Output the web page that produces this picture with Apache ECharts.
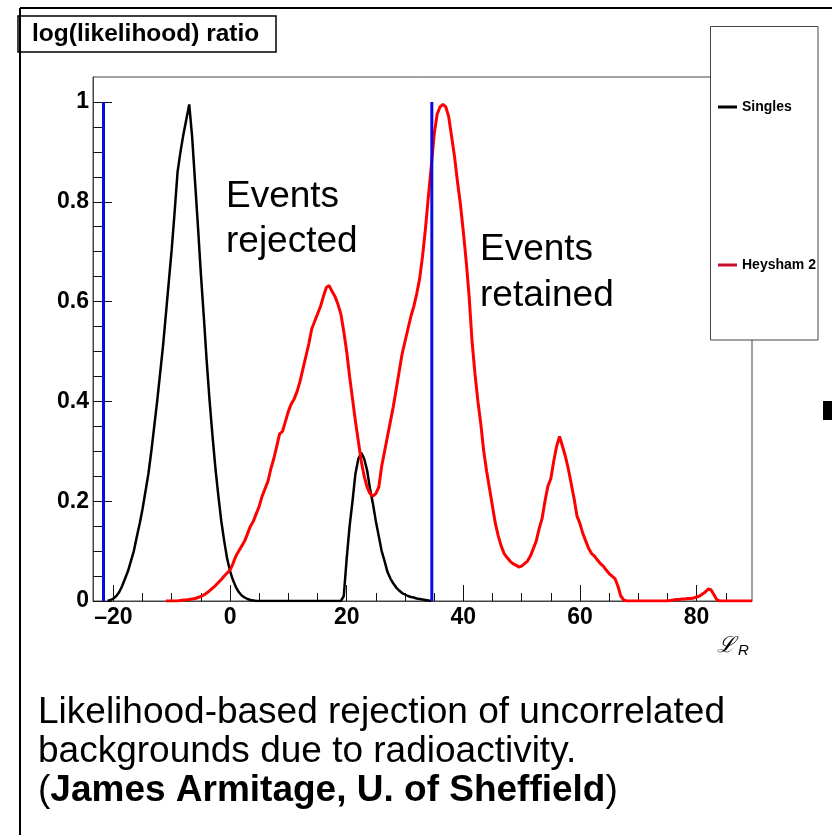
<!DOCTYPE html>
<html><head><meta charset="utf-8">
<script src="https://cdn.jsdelivr.net/npm/echarts@6/dist/echarts.min.js"></script>
<style>html,body{margin:0;padding:0;background:#fff}#c{width:832px;height:835px}</style>
</head><body><div id="c"></div>
<script>
// ---- data (histograms, bin width 0.5) ----
const binWidth = 0.5;
const singlesStart = -21;
const singles = [
  0, 0.002, 0.005, 0.01, 0.018, 0.03, 0.045, 0.06, 0.08, 0.1,
  0.128, 0.155, 0.185, 0.22, 0.255, 0.3, 0.35, 0.4, 0.455, 0.51,
  0.575, 0.64, 0.705, 0.78, 0.86, 0.9, 0.935, 0.965, 0.995, 0.93,
  0.84, 0.75, 0.655, 0.57, 0.48, 0.4, 0.33, 0.265, 0.21, 0.16,
  0.12, 0.085, 0.06, 0.042, 0.028, 0.018, 0.011, 0.007, 0.004, 0.002,
  0.001, 0, 0, 0, 0, 0, 0, 0, 0, 0,
  0, 0, 0, 0, 0, 0, 0, 0, 0, 0,
  0, 0, 0, 0, 0, 0, 0, 0, 0, 0,
  0, 0.01, 0.085, 0.15, 0.2, 0.255, 0.285, 0.297, 0.285, 0.262,
  0.225, 0.195, 0.16, 0.13, 0.1, 0.08, 0.058, 0.045, 0.035, 0.027,
  0.021, 0.016, 0.013, 0.01, 0.008, 0.007, 0.005, 0.004, 0.003, 0.002,
  0.001, 0
];
const heyshamStart = -11;
const heysham = [
  0, 0, 0, 0, 0, 0.001, 0.002, 0.002, 0.003, 0.004,
  0.005, 0.007, 0.009, 0.012, 0.016, 0.021, 0.026, 0.031, 0.037, 0.043,
  0.05, 0.056, 0.062, 0.075, 0.09, 0.1, 0.11, 0.12, 0.135, 0.15,
  0.16, 0.175, 0.19, 0.21, 0.225, 0.24, 0.265, 0.285, 0.31, 0.335,
  0.34, 0.36, 0.38, 0.395, 0.405, 0.42, 0.44, 0.465, 0.49, 0.515,
  0.545, 0.56, 0.575, 0.59, 0.61, 0.628, 0.632, 0.62, 0.61, 0.595,
  0.575, 0.54, 0.5, 0.45, 0.405, 0.36, 0.32, 0.28, 0.25, 0.228,
  0.215, 0.21, 0.215, 0.228, 0.27, 0.3, 0.33, 0.36, 0.39, 0.425,
  0.46, 0.495, 0.52, 0.545, 0.57, 0.59, 0.615, 0.645, 0.69, 0.745,
  0.81, 0.87, 0.935, 0.975, 0.99, 0.995, 0.99, 0.97, 0.93, 0.89,
  0.84, 0.795, 0.74, 0.68, 0.61, 0.52, 0.455, 0.4, 0.355, 0.3,
  0.26, 0.225, 0.19, 0.155, 0.13, 0.11, 0.095, 0.087, 0.08, 0.075,
  0.072, 0.068, 0.07, 0.075, 0.08, 0.09, 0.105, 0.12, 0.145, 0.165,
  0.2, 0.23, 0.245, 0.28, 0.31, 0.33, 0.31, 0.29, 0.265, 0.235,
  0.205, 0.17, 0.155, 0.135, 0.12, 0.105, 0.095, 0.09, 0.082, 0.075,
  0.07, 0.062, 0.055, 0.05, 0.045, 0.03, 0.01, 0.002, 0, 0,
  0, 0, 0, 0, 0, 0, 0, 0, 0, 0,
  0, 0, 0, 0.001, 0.002, 0.003, 0.003, 0.004, 0.004, 0.005,
  0.005, 0.006, 0.008, 0.01, 0.014, 0.018, 0.024, 0.022, 0.012, 0.002,
  0, 0, 0, 0, 0, 0, 0, 0, 0, 0,
  0, 0
];
const cutValues = [-21.7, 34.6];
const cutHeight = [0, 1];
const xMin = -23.5, xMax = 89.5, yMin = 0, yMax = 1.05;
const xTickValues = [-20, 0, 20, 40, 60, 80];
const xTickLabels = ['\u201320', '0', '20', '40', '60', '80'];
const xMinorValues = [-20, -15, -10, -5, 0, 5, 10, 15, 20, 25, 30, 35, 40, 45, 50, 55, 60, 65, 70, 75, 80, 85];
const yTickValues = [0, 0.2, 0.4, 0.6, 0.8, 1];
const yTickLabels = ['0', '0.2', '0.4', '0.6', '0.8', '1'];
const yMinorValues = [0.05, 0.1, 0.15, 0.2, 0.25, 0.3, 0.35, 0.4, 0.45, 0.5, 0.55, 0.6, 0.65, 0.7, 0.75, 0.8, 0.85, 0.9, 0.95, 1];
const seriesNames = ['Singles', 'Heysham 2'];

// ---- build ----
const FF = '"Liberation Sans", Arial, Helvetica, sans-serif';
const toPairs = (start, arr) => arr.map((v, i) => [start + i * binWidth, v]);
const labelFor = (vals, labels) => v => {
  const i = vals.findIndex(t => Math.abs(t - v) < 1e-9);
  return i >= 0 ? labels[i] : '';
};

const chart = echarts.init(document.getElementById('c'), null, {renderer: 'canvas'});
const axisLabelStyle = {color: '#000', fontWeight: 'bold', fontSize: 23, fontFamily: FF};

const option = {
  animation: false,
  backgroundColor: '#fff',
  grid: {left: 93, top: 77, width: 659, height: 524, show: true, borderColor: '#444', borderWidth: 1, backgroundColor: 'transparent'},
  xAxis: [
    {type: 'value', min: xMin, max: xMax, position: 'bottom',
     axisLine: {show: true, onZero: false, lineStyle: {color: '#444', width: 1}},
     axisTick: {show: true, inside: true, length: 16, customValues: xTickValues, lineStyle: {color: '#111', width: 1}},
     axisLabel: {show: true, customValues: xTickValues, formatter: labelFor(xTickValues, xTickLabels), margin: 5, ...axisLabelStyle},
     splitLine: {show: false}},
    {type: 'value', min: xMin, max: xMax, position: 'bottom',
     axisLine: {show: false, onZero: false},
     axisTick: {show: true, inside: true, length: 8, customValues: xMinorValues, lineStyle: {color: '#111', width: 1}},
     axisLabel: {show: false}, splitLine: {show: false}}
  ],
  yAxis: [
    {type: 'value', min: yMin, max: yMax, position: 'left',
     axisLine: {show: true, onZero: false, lineStyle: {color: '#444', width: 1}},
     axisTick: {show: true, inside: true, length: 19, customValues: yTickValues, lineStyle: {color: '#111', width: 1}},
     axisLabel: {show: true, customValues: yTickValues, formatter: labelFor(yTickValues, yTickLabels), margin: 4, ...axisLabelStyle},
     splitLine: {show: false}},
    {type: 'value', min: yMin, max: yMax, position: 'left',
     axisLine: {show: false, onZero: false},
     axisTick: {show: true, inside: true, length: 10, customValues: yMinorValues, lineStyle: {color: '#111', width: 1}},
     axisLabel: {show: false}, splitLine: {show: false}}
  ],
  legend: {
    orient: 'vertical', left: 713, top: 95, itemGap: 144, itemWidth: 19, itemHeight: 3, icon: 'rect',
    selectedMode: false, z: 5,
    textStyle: {color: '#000', fontWeight: 'bold', fontSize: 14, fontFamily: FF},
    data: [{name: seriesNames[0], itemStyle: {color: '#000'}}, {name: seriesNames[1], itemStyle: {color: '#c8102e'}}]
  },
  series: [
    {name: seriesNames[0], type: 'line', data: toPairs(singlesStart, singles), showSymbol: false, symbol: 'none',
     lineStyle: {color: '#000', width: 2.5}, itemStyle: {color: '#000'}, z: 2},
    {name: seriesNames[1], type: 'line', data: toPairs(heyshamStart, heysham), showSymbol: false, symbol: 'none',
     lineStyle: {color: '#ff0000', width: 3}, itemStyle: {color: '#ff0000'}, z: 3},
    {name: 'cutLow', type: 'line', data: cutHeight.map(h => [cutValues[0], h]), showSymbol: false, symbol: 'none',
     lineStyle: {color: '#0a0ae0', width: 3}, z: 4},
    {name: 'cutHigh', type: 'line', data: cutHeight.map(h => [cutValues[1], h]), showSymbol: false, symbol: 'none',
     lineStyle: {color: '#0a0ae0', width: 3}, z: 4}
  ],
  graphic: [
    {type: 'line', shape: {x1: 20, y1: 8, x2: 832, y2: 8}, style: {stroke: '#000', lineWidth: 2}, z: 1},
    {type: 'line', shape: {x1: 20, y1: 8, x2: 20, y2: 835}, style: {stroke: '#000', lineWidth: 2}, z: 1},
    {type: 'rect', shape: {x: 18, y: 16, width: 258, height: 36}, style: {fill: 'none', stroke: '#000', lineWidth: 1.5}, z: 1},
    {type: 'text', x: 32, y: 34, style: {text: 'log(likelihood) ratio', fill: '#000', font: 'bold 24.5px ' + FF, verticalAlign: 'middle'}, z: 1},
    {type: 'rect', shape: {x: 710.5, y: 26.5, width: 107.5, height: 313.5}, style: {fill: '#fff', stroke: '#444', lineWidth: 1}, z: 4},
    {type: 'text', x: 226, y: 197, style: {text: 'Events', fill: '#000', font: '37px ' + FF, verticalAlign: 'middle'}, z: 5},
    {type: 'text', x: 226, y: 242, style: {text: 'rejected', fill: '#000', font: '37px ' + FF, verticalAlign: 'middle'}, z: 5},
    {type: 'text', x: 480, y: 250, style: {text: 'Events', fill: '#000', font: '37px ' + FF, verticalAlign: 'middle'}, z: 5},
    {type: 'text', x: 480, y: 296, style: {text: 'retained', fill: '#000', font: '37px ' + FF, verticalAlign: 'middle'}, z: 5},
    {type: 'text', x: 717, y: 646, style: {
      text: '{l|\u2112}{r|R}', verticalAlign: 'middle',
      rich: {l: {fontSize: 22, fontStyle: 'italic', fontFamily: '"DejaVu Serif", serif', fill: '#000', verticalAlign: 'middle'},
             r: {fontSize: 15, fontStyle: 'italic', fontFamily: FF, fill: '#000', padding: [10, 0, 0, 3]}}}, z: 5},
    {type: 'text', x: 38, y: 713, style: {text: 'Likelihood-based rejection of uncorrelated', fill: '#000', font: '37px ' + FF, verticalAlign: 'middle'}, z: 5},
    {type: 'text', x: 38, y: 752, style: {text: 'backgrounds due to radioactivity.', fill: '#000', font: '37px ' + FF, verticalAlign: 'middle'}, z: 5},
    {type: 'text', x: 38, y: 791, style: {
      text: '{n|(}{b|James Armitage, U. of Sheffield}{n|)}', verticalAlign: 'middle',
      rich: {n: {fontSize: 37, fontFamily: FF, fill: '#000'}, b: {fontSize: 37, fontFamily: FF, fontWeight: 'bold', fill: '#000'}}}, z: 5},
    {type: 'rect', shape: {x: 823, y: 401, width: 9, height: 19}, style: {fill: '#000'}, z: 5}
  ]
};
chart.setOption(option);
</script></body></html>
